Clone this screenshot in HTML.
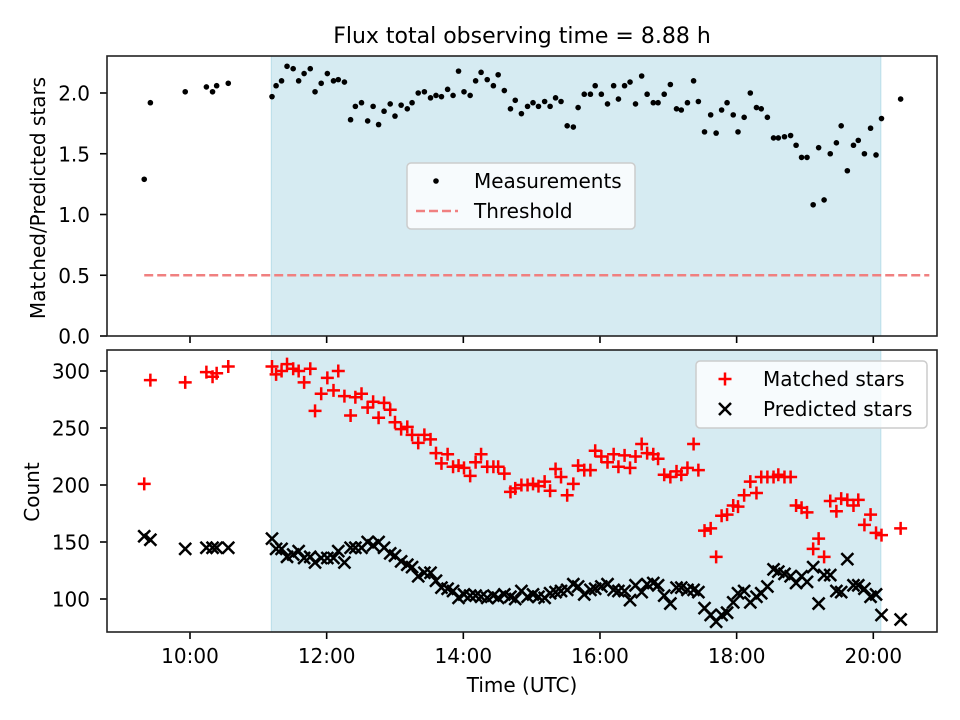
<!DOCTYPE html>
<html><head><meta charset="utf-8"><style>
body{margin:0;background:#fff;}
svg{display:block;font-family:"DejaVu Sans","Liberation Sans",sans-serif;}
</style></head><body>
<svg id="chart" width="960" height="720" viewBox="0 0 960 720" xmlns="http://www.w3.org/2000/svg">
<rect width="960" height="720" fill="#fff"/>
<text x="522" y="43" font-size="22" text-anchor="middle" fill="#000">Flux total observing time = 8.88 h</text>
<g id="top"></g><g id="bot"></g>
</svg>
<script>
const times=[9.33,9.42,9.93,10.24,10.33,10.39,10.56,
11.20,11.26,11.34,11.42,11.51,11.59,11.67,11.76,11.83,11.92,12.01,12.10,12.17,12.26,12.35,12.42,12.51,12.60,12.68,12.76,12.84,12.93,13.00,13.09,13.18,13.25,13.34,13.43,13.52,13.60,13.68,13.77,13.85,13.93,14.01,14.10,14.18,14.26,14.35,14.44,14.51,14.60,14.69,14.76,14.85,
14.94,15.02,15.10,15.19,15.27,15.35,15.43,15.52,15.61,15.68,15.77,15.86,15.93,16.02,16.11,16.20,16.27,16.36,16.44,16.52,16.61,16.69,16.78,16.85,16.94,17.03,17.12,17.19,17.28,17.37,17.44,17.53,17.62,17.70,17.78,17.86,17.95,18.02,18.11,18.20,18.29,18.36,18.45,18.54,18.61,18.70,18.79,18.87,18.95,19.03,19.12,19.20,19.28,19.37,19.46,19.53,19.62,19.71,19.78,19.87,19.96,20.04,20.12,20.40];
const ratio=[1.29,1.92,2.01,2.05,2.01,2.06,2.08,
1.97,2.06,2.10,2.22,2.20,2.10,2.16,2.20,2.01,2.08,2.16,2.10,2.11,2.09,1.78,1.89,1.92,1.77,1.89,1.74,1.85,1.91,1.81,1.90,1.87,1.92,2.00,2.01,1.96,1.98,1.97,2.03,1.98,2.18,2.01,1.98,2.10,2.17,2.11,2.06,2.15,2.02,1.87,1.94,1.83,
1.89,1.92,1.89,1.93,1.89,1.96,1.93,1.73,1.72,1.88,1.99,1.99,2.06,1.99,1.91,2.06,1.95,2.06,2.09,1.91,2.14,1.99,1.92,1.92,1.99,2.07,1.87,1.86,1.92,2.10,1.93,1.68,1.82,1.67,1.86,1.92,1.82,1.68,1.80,2.00,1.88,1.87,1.80,1.63,1.63,1.64,1.65,1.57,1.47,1.47,1.08,1.55,1.12,1.50,1.59,1.73,1.36,1.57,1.61,1.50,1.71,1.49,1.79,1.95];
const matched=[201,292,290,299,295,298,304,
304,297,300,306,302,300,290,302,265,280,294,283,300,278,261,277,280,268,273,259,272,266,255,249,251,244,237,244,240,228,219,227,216,217,215,208,220,227,216,216,216,210,194,197,200,
200,201,199,203,195,214,207,191,201,217,213,213,230,225,220,227,216,226,215,225,236,228,227,223,209,207,212,209,215,236,213,160,162,137,173,174,182,181,191,203,193,207,207,207,209,207,207,182,180,176,144,153,137,186,177,188,187,182,187,165,174,158,156,162];
const predicted=[155,152,144,145,145,145,145,
153,144,144,137,139,142,136,137,132,136,136,136,142,132,145,145,145,150,147,150,145,140,138,133,130,128,120,123,123,116,110,109,107,101,104,103,103,102,101,103,101,104,102,100,107,
102,104,102,101,105,106,107,108,113,111,104,108,109,111,113,108,107,107,99,112,106,113,114,112,103,96,110,110,108,108,106,92,86,80,86,88,97,105,107,97,102,105,111,126,124,122,120,114,120,115,128,96,121,121,107,106,135,112,112,109,102,104,86,82];
const span=[11.19,20.11];
const threshold=0.5;
const thrRange=[9.33,20.82];
const xTicks=[10,12,14,16,18,20];
const xTickLabels=["10:00","12:00","14:00","16:00","18:00","20:00"];
const topTicks=[0,0.5,1.0,1.5,2.0];
const botTicks=[100,150,200,250,300];

const NS="http://www.w3.org/2000/svg";
const L=107,R=937,FS=20;
const X=t=>190+(t-10)*68.33;
const YT=v=>336-v*121.5;
const YB=v=>371+(300-v)*1.14;
function mk(tag,attrs,parent,text){const e=document.createElementNS(NS,tag);for(const k in attrs)e.setAttribute(k,attrs[k]);if(text!==undefined)e.textContent=text;parent.appendChild(e);return e;}

function panel(g,top,bottom,Y,ticks,fmt,name){
  const s=mk('rect',{x:X(span[0]),y:top,width:X(span[1])-X(span[0]),height:bottom-top,fill:'#add8e6','fill-opacity':0.5,stroke:'#add8e6','stroke-opacity':0.8},g);
  
  
  ticks.forEach(v=>{
    const t=mk('line',{x1:L-7,x2:L,y1:Y(v),y2:Y(v),stroke:'#000','stroke-width':1.6},g);
    
    
    const tx=mk('text',{x:L-17,y:Y(v)+7.5,'font-size':FS,'text-anchor':'end'},g,fmt(v));
    
    
  });
  xTicks.forEach((v,i)=>{
    const t=mk('line',{x1:X(v),x2:X(v),y1:bottom,y2:bottom+7,stroke:'#000','stroke-width':1.6},g);
    
    
  });
}
const gt=document.getElementById('top'),gb=document.getElementById('bot');
panel(gt,56,336,YT,topTicks,v=>v.toFixed(1),'top');
panel(gb,350,632,YB,botTicks,v=>String(v),'bottom');

const th=mk('line',{x1:X(thrRange[0]),x2:X(thrRange[1]),y1:YT(threshold),y2:YT(threshold),stroke:'#f08080','stroke-width':2.5,'stroke-dasharray':'9,4'},gt);



times.forEach((t,i)=>{
  const c=mk('circle',{cx:X(t),cy:YT(ratio[i]),r:2.8,fill:'#000'},gt);
  
  
});
times.forEach((t,i)=>{
  const x=X(t),y=YB(predicted[i]);
  const p=mk('path',{d:`M${x-6},${y-6}L${x+6},${y+6}M${x-6},${y+6}L${x+6},${y-6}`,stroke:'#000','stroke-width':2.5,fill:'none'},gb);
  
  
});
times.forEach((t,i)=>{
  const x=X(t),y=YB(matched[i]);
  const p=mk('path',{d:`M${x-6.5},${y}L${x+6.5},${y}M${x},${y-6.5}L${x},${y+6.5}`,stroke:'#f00','stroke-width':2.5,fill:'none'},gb);
  
  
});
[[gt,56,336,'top'],[gb,350,632,'bottom']].forEach(([g,a,b,n])=>{
  const f=mk('rect',{x:L,y:a,width:R-L,height:b-a,fill:'none',stroke:'#222','stroke-width':1.6},g);
  
  
});
xTicks.forEach((v,i)=>{
  const tx=mk('text',{x:X(v),y:663,'font-size':FS,'text-anchor':'middle'},gb,xTickLabels[i]);
  
  
});
</script>
<script>
const svg=document.getElementById('chart');
function mk2(tag,attrs,text){const e=document.createElementNS("http://www.w3.org/2000/svg",tag);for(const k in attrs)e.setAttribute(k,attrs[k]);if(text!==undefined)e.textContent=text;svg.appendChild(e);return e;}
let e;
e=mk2('text',{x:522,y:692,'font-size':20,'text-anchor':'middle'},'Time (UTC)');


e=mk2('text',{x:0,y:0,'font-size':20,'text-anchor':'middle',transform:'translate(45,198) rotate(-90)'},'Matched/Predicted stars');


e=mk2('text',{x:0,y:0,'font-size':20,'text-anchor':'middle',transform:'translate(39,492) rotate(-90)'},'Count');


e=mk2('rect',{x:407,y:163,width:228,height:66,rx:4,fill:'#fff','fill-opacity':0.8,stroke:'#ccc','stroke-width':1.5});


e=mk2('circle',{cx:436,cy:181,r:2.8,fill:'#000'});


e=mk2('text',{x:474,y:188,'font-size':20},'Measurements');


e=mk2('line',{x1:416,x2:458,y1:211,y2:211,stroke:'#f08080','stroke-width':2.5,'stroke-dasharray':'9,4'});


e=mk2('text',{x:474,y:218,'font-size':20},'Threshold');


e=mk2('rect',{x:696,y:361,width:231,height:67,rx:4,fill:'#fff','fill-opacity':0.8,stroke:'#ccc','stroke-width':1.5});


e=mk2('path',{d:'M718.5,379h13M725,372.5v13',stroke:'#f00','stroke-width':2.5});


e=mk2('text',{x:763,y:386,'font-size':20},'Matched stars');


e=mk2('path',{d:'M719,403l12,12M719,415l12,-12',stroke:'#000','stroke-width':2.5});


e=mk2('text',{x:763,y:416,'font-size':20},'Predicted stars');


</script>
</body></html>
